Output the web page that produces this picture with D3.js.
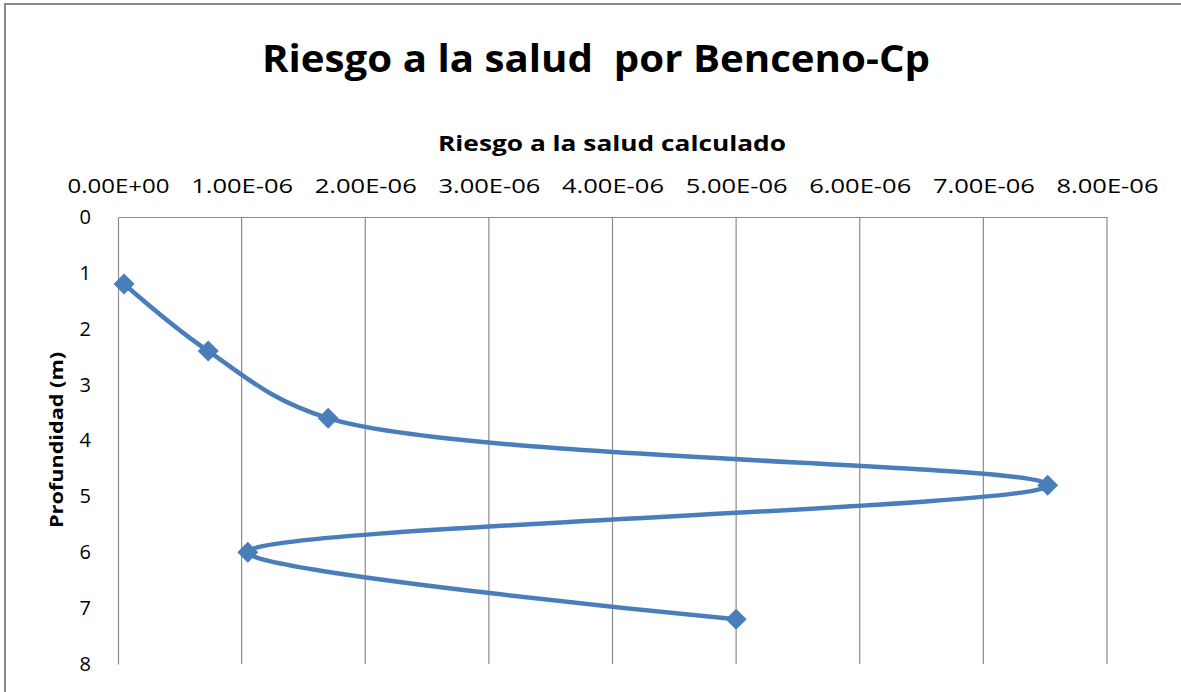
<!DOCTYPE html>
<html>
<head>
<meta charset="utf-8">
<script src="https://cdn.jsdelivr.net/npm/d3@7"></script>
<style>
  html, body { margin: 0; padding: 0; background: #fff; }
  svg { display: block; }
  text { font-family: "Open Sans", "Noto Sans", sans-serif; fill: #000; }
</style>
</head>
<body>
<svg id="chart" width="1181" height="692"></svg>
<script>
// Health risk from benzene by depth
const depths = [1.2, 2.4, 3.6, 4.8, 6.0, 7.2];
const risks = [4.9e-8, 7.3e-7, 1.70e-6, 7.52e-6, 1.05e-6, 5.0e-6];
const xTicks = [0, 1e-6, 2e-6, 3e-6, 4e-6, 5e-6, 6e-6, 7e-6, 8e-6];
const yTicks = [0, 1, 2, 3, 4, 5, 6, 7, 8];

const title = "Riesgo a la salud  por Benceno-Cp";
const xTitle = "Riesgo a la salud calculado";
const yTitle = "Profundidad (m)";

const svg = d3.select("#chart");
const W = 1181, H = 692;
const plot = { left: 118, right: 1107, top: 217, bottom: 664 };

// chart frame
svg.append("rect")
  .attr("x", 5).attr("y", 4)
  .attr("width", W + 10).attr("height", H + 10)
  .attr("fill", "#fff").attr("stroke", "#898989").attr("stroke-width", 2);

const x = d3.scaleLinear().domain([0, 8e-6]).range([plot.left, plot.right]);
const y = d3.scaleLinear().domain([0, 8]).range([plot.top, plot.bottom]);

// vertical gridlines
svg.append("g")
  .selectAll("line")
  .data(xTicks.slice(1))
  .join("line")
  .attr("x1", d => x(d)).attr("x2", d => x(d))
  .attr("y1", plot.top).attr("y2", plot.bottom)
  .attr("stroke", "#8c8c8c").attr("stroke-width", 1.2);

const sci = d => {
  const [m, e] = d3.format(".2e")(d).split("e");
  const sign = e[0] === "-" ? "-" : "+";
  const exp = Math.abs(+e).toString().padStart(2, "0");
  return `${m}E${sign}${exp}`;
};

// x axis on top
const xAxis = d3.axisTop(x).tickValues(xTicks).tickSize(0).tickPadding(24).tickFormat(sci);
const gx = svg.append("g").attr("transform", `translate(0,${plot.top})`).call(xAxis);
gx.select(".domain").attr("stroke", "#8c8c8c").attr("stroke-width", 1.2);
gx.selectAll("text")
  .style("font-size", "20px")
  .style("font-family", "'Open Sans', sans-serif")
  .attr("textLength", 102).attr("lengthAdjust", "spacingAndGlyphs")
  .attr("fill", "#1a1a1a");

// y axis on left
const yAxis = d3.axisLeft(y).tickValues(yTicks).tickSize(0).tickPadding(27);
const gy = svg.append("g").attr("transform", `translate(${plot.left},0)`).call(yAxis);
gy.select(".domain").attr("stroke", "#8c8c8c").attr("stroke-width", 1.2);
gy.selectAll("text")
  .style("font-size", "20px")
  .style("font-family", "'Open Sans', sans-serif")
  .attr("fill", "#1a1a1a");

// titles
svg.append("text")
  .attr("x", 596).attr("y", 72)
  .attr("text-anchor", "middle")
  .style("font-size", "38px").style("font-weight", "bold")
  .style("white-space", "pre")
  .attr("xml:space", "preserve")
  .attr("textLength", 668).attr("lengthAdjust", "spacingAndGlyphs")
  .text(title);

svg.append("text")
  .attr("x", 612).attr("y", 151)
  .attr("text-anchor", "middle")
  .style("font-size", "22px").style("font-weight", "bold")
  .attr("textLength", 348).attr("lengthAdjust", "spacingAndGlyphs")
  .text(xTitle);

svg.append("text")
  .attr("transform", "translate(63,440) rotate(-90)")
  .attr("text-anchor", "middle")
  .style("font-size", "18px").style("font-weight", "bold")
  .attr("textLength", 176).attr("lengthAdjust", "spacingAndGlyphs")
  .text(yTitle);

// smoothed series line
const pts = depths.map((d, i) => ({ depth: d, risk: risks[i] }));
const line = d3.line()
  .x(d => x(d.risk))
  .y(d => y(d.depth))
  .curve(d3.curveCatmullRom.alpha(0.5));

svg.append("path")
  .datum(pts)
  .attr("d", line)
  .attr("fill", "none")
  .attr("stroke", "#4a7ebb")
  .attr("stroke-width", 4.5)
  .attr("stroke-linejoin", "round");

// diamond markers
const diamond = d3.symbol().type(d3.symbolSquare).size(220);
svg.append("g")
  .selectAll("path")
  .data(pts)
  .join("path")
  .attr("d", diamond)
  .attr("transform", d => `translate(${x(d.risk)},${y(d.depth)}) rotate(45)`)
  .attr("fill", "#4a7ebb");
</script>
</body>
</html>
